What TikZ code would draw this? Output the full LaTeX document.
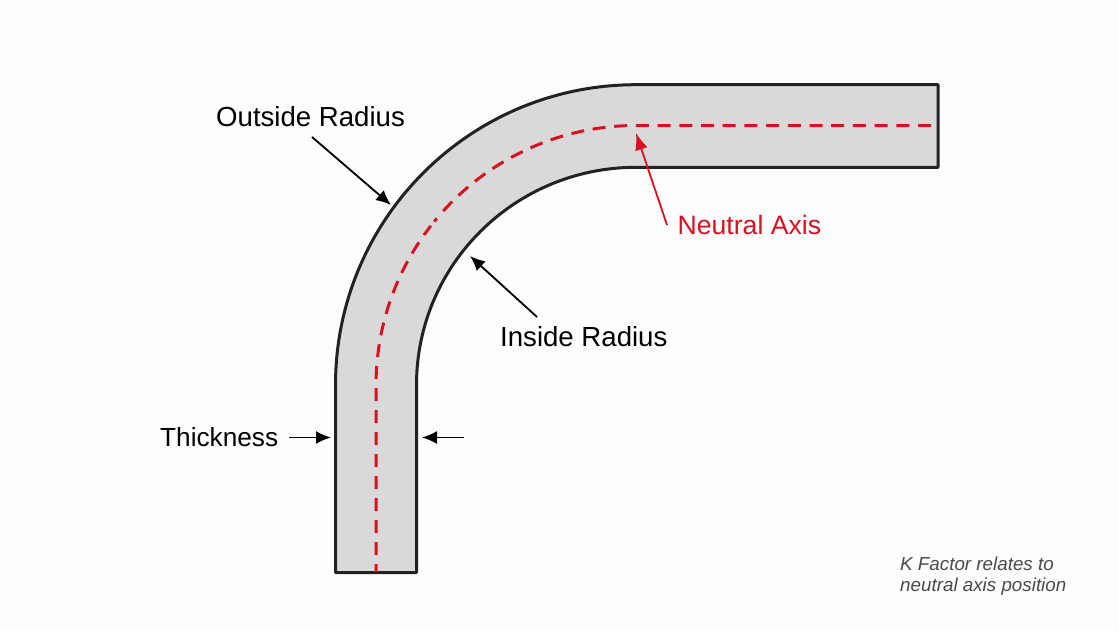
\documentclass[tikz,border=0pt]{standalone}
\usepackage{fontspec}
\setmainfont{Liberation Sans}
\usetikzlibrary{arrows.meta}
\definecolor{pagebg}{HTML}{FDFDFD}
\definecolor{sheet}{HTML}{D9D9D9}
\definecolor{edge}{HTML}{222222}
\definecolor{axisred}{HTML}{D8101F}
\definecolor{notegray}{HTML}{4A4A4A}
\tikzset{
  sheetbody/.style={fill=sheet,draw=edge,line width=3pt,line join=round},
  axisline/.style={draw=axisred,line width=3pt},
  axisdash/.style={axisline,dash pattern=on 13pt off 9pt,dash phase=5pt},
  axisdashb/.style={axisline,dash pattern=on 13pt off 8.7pt},
  callout/.style={draw=black,line width=1.8pt,-{Latex[length=15pt,width=13pt]}},
  calloutred/.style={draw=axisred,line width=1.8pt,-{Latex[length=17pt,width=13pt]}},
  lbl/.style={anchor=base west,inner sep=0pt,font=\fontsize{27.6}{30}\selectfont,text=black},
  lblthick/.style={lbl,font=\fontsize{26.2}{30}\selectfont},
  lblred/.style={lbl,text=axisred,font=\fontsize{26.6}{30}\selectfont},
  note/.style={anchor=north west,inner sep=0pt,align=left,text=notegray,
    font=\fontsize{18.8}{21}\selectfont\itshape}
}
\begin{document}
\begin{tikzpicture}[x=1pt,y=-1pt]
\fill[pagebg] (0,0) rectangle (1119,630);
\useasboundingbox (0,0) rectangle (1119,630);
\coordinate (C) at (636,385.5);
% body
\draw[sheetbody] (335.5,572.5) -- (335.5,385) arc[start angle=180,end angle=270,x radius=300.5,y radius=300.3]
  -- (938,84.7) -- (938,167.3) -- (636,167.3)
  arc[start angle=270,end angle=180,x radius=219.5,y radius=217.7] -- (416.5,572.5) -- cycle;
% neutral axis
\coordinate (na0) at (376,572);
\coordinate (naL) at (376,385.5);
\coordinate (naT) at (636,125.5);
\coordinate (na1) at (931,125.5);
\draw[axisdash] (na0) -- (naL) arc[start angle=180,end angle=217.9,radius=260];
\draw[axisdashb] (na1) -- (naT) arc[start angle=270,end angle=222,radius=260];
\draw[axisline] ([shift={(219.1:260)}]C) arc[start angle=219.1,end angle=220,radius=260];
% labels
\node[lbl] (outside) at (216,126) {Outside Radius};
\node[lbl] (inside) at (500,346) {Inside Radius};
\node[lblthick] (thick) at (160,446) {Thickness};
\node[lblred] (neutral) at (677.5,234) {Neutral Axis};
\node[note] (knote) at (900,557) {K Factor relates to\\neutral axis position};
% callouts
\coordinate (o0) at (312,137);
\coordinate (o1) at (391,205);
\coordinate (i0) at (537,317);
\coordinate (i1) at (470,256);
\coordinate (n0) at (667,225);
\coordinate (n1) at (636,133);
\coordinate (t0) at (289,437.5);
\coordinate (t1) at (331,437.5);
\coordinate (u0) at (464,437.5);
\coordinate (u1) at (422,437.5);
\draw[callout] (o0) -- (o1);
\draw[callout] (i0) -- (i1);
\draw[calloutred] (n0) -- (n1);
\draw[callout] (t0) -- (t1);
\draw[callout] (u0) -- (u1);
\end{tikzpicture}
\end{document}
